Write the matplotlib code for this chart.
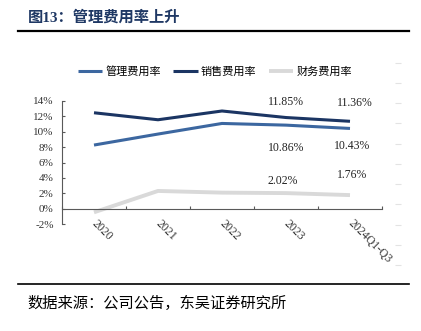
import matplotlib
matplotlib.use("Agg")
import matplotlib.pyplot as plt
import numpy as np

# ---- data ----
categories = ["2020", "2021", "2022", "2023", "2024Q1-Q3"]
admin_rate = [8.27, 9.70, 11.08, 10.86, 10.43]     # 管理费用率
sales_rate = [12.47, 11.56, 12.70, 11.85, 11.36]   # 销售费用率
fin_rate = [-0.48, 2.30, 2.08, 2.02, 1.76]         # 财务费用率
series_names = ["管理费用率", "销售费用率", "财务费用率"]
y_ticks = [-2, 0, 2, 4, 6, 8, 10, 12, 14]
title_text = "图13：管理费用率上升"
source_text = "数据来源：公司公告，东吴证券研究所"

SERIF = ["Liberation Serif", "Noto Sans CJK SC"]
CJK = ["Noto Sans CJK SC", "DejaVu Sans"]

W, H = 421, 331
fig = plt.figure(figsize=(W / 100, H / 100), dpi=100)

def fx(px):
    return px / W

def fy(py):
    return 1 - py / H

# title and rules
fig.text(fx(28), fy(17), title_text, fontsize=11, fontweight="bold",
         color="#1F3864", family=SERIF, ha="left", va="center")
fig.add_artist(plt.Line2D([fx(18), fx(409)], [fy(31), fy(31)], color="black", lw=1.6))
fig.add_artist(plt.Line2D([fx(18), fx(409)], [fy(284), fy(284)], color="black", lw=1.2))
fig.text(fx(27), fy(303), source_text, fontsize=11, color="black",
         family=CJK, ha="left", va="center")

# main axes
ax = fig.add_axes([fx(62), 1 - 224 / H, 320 / W, 123 / H])
for s in ["top", "right"]:
    ax.spines[s].set_visible(False)
ax.spines["bottom"].set_position(("data", 0))
ax.spines["left"].set_color("#595959")
ax.spines["bottom"].set_color("#595959")
ax.spines["left"].set_linewidth(0.8)
ax.spines["bottom"].set_linewidth(0.8)
ax.set_facecolor("none")

x = np.arange(len(categories))
colors = ["#3C67A0", "#1B3563", "#D9D9D9"]
l1, = ax.plot(x, admin_rate, color=colors[0], lw=2.2, solid_capstyle="butt")
l2, = ax.plot(x, sales_rate, color=colors[1], lw=2.2, solid_capstyle="butt")
l3, = ax.plot(x, fin_rate, color=colors[2], lw=2.8, solid_capstyle="butt")

ax.set_xlim(-0.5, len(categories) - 0.5)
ax.set_ylim(-2, 14)
ax.set_yticks(y_ticks)
ax.set_yticklabels([f"{v}%" for v in y_ticks], family=SERIF, fontsize=8, color="#333333")
ax.tick_params(axis="y", direction="in", length=2.5, width=0.8, color="#595959", pad=6)

ax.set_xticks(x)
ax.set_xticklabels(categories, family=SERIF, fontsize=8.5, color="#333333",
                   rotation=-45, ha="left", va="center", rotation_mode="anchor")
ax.tick_params(axis="x", which="major", length=0, pad=9.5)
ax.set_xticks(np.arange(-0.5, len(categories)), minor=True)
ax.tick_params(axis="x", which="minor", direction="in", length=2.5, width=0.8, color="#595959")

# annotations (text offset in points)
ann = [
    (3, sales_rate[3], 0, 11.5),
    (4, sales_rate[4], 3.5, 13.3),
    (3, admin_rate[3], 0, -16.3),
    (4, admin_rate[4], 1.5, -13),
    (3, fin_rate[3], -2.5, 8.6),
    (4, fin_rate[4], 1.5, 14.4),
]
for xi, v, dx, dy in ann:
    ax.annotate(f"{v:.2f}%", xy=(xi, v), xytext=(dx, dy), textcoords="offset points",
                ha="center", va="center", fontsize=8.5, family=SERIF, color="#222222")

# legend
fig.legend([l1, l2, l3], series_names, loc="center", bbox_to_anchor=(fx(215), fy(71)),
           ncol=3, frameon=False, prop={"family": CJK, "size": 8},
           handlelength=2.2, handletextpad=0.3, columnspacing=1.1)

# faint right-side tick marks
ax2 = fig.add_axes([fx(395), 1 - 265 / H, 6 / W, (265 - 62.7) / H])
ax2.set_ylim(0, 10)
ax2.set_yticks(np.arange(0, 11))
ax2.set_yticklabels([])
ax2.set_xticks([])
ax2.tick_params(axis="y", direction="in", length=4.1, width=0.8, color="#E3E3E3")
for s in ax2.spines.values():
    s.set_visible(False)
ax2.set_facecolor("none")

fig.savefig("out.png", dpi=100)
